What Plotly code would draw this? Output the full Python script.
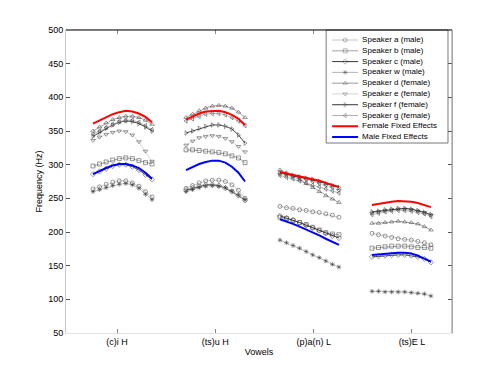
import plotly.graph_objects as go

# ---------------- data ----------------
vowels = ["(c)i H", "(ts)u H", "(p)a(n) L", "(ts)E L"]
vowel_pos = [1, 2, 3, 4]
group_start = [0.756, 1.702, 2.657, 3.593]   # where each vowel's contour begins
norm_time = [0, 1, 2, 3, 4, 5, 6, 7, 8, 9]     # sampling points in each contour
time_span = 0.6

spk_a = [[264, 267, 271, 274, 276, 276, 273, 268, 260, 252],
         [265, 269, 273, 276, 277, 277, 275, 270, 262, 250],
         [238, 236, 235, 233, 232, 230, 229, 227, 225, 222],
         [198, 196, 194, 192, 190, 189, 188, 186, 184, 181]]
spk_b = [[298, 301, 304, 307, 309, 310, 309, 306, 303, 301],
         [322, 322, 321, 320, 319, 318, 316, 313, 310, 303],
         [222, 220, 217, 214, 211, 207, 203, 199, 197, 196],
         [176, 177, 178, 179, 179, 179, 178, 177, 177, 176]]
spk_c = [[286, 290, 294, 298, 300, 300, 297, 292, 285, 278],
         [262, 265, 268, 270, 270, 269, 265, 260, 254, 247],
         [224, 221, 218, 214, 210, 206, 202, 198, 194, 191],
         [163, 164, 165, 166, 166, 166, 165, 163, 160, 155]]
spk_w = [[260, 263, 266, 269, 271, 272, 270, 265, 256, 248],
         [260, 263, 266, 268, 269, 268, 266, 261, 255, 248],
         [188, 184, 180, 176, 171, 166, 162, 157, 152, 148],
         [112, 112, 111, 111, 111, 111, 110, 109, 108, 105]]
spk_d = [[350, 356, 362, 367, 370, 372, 372, 370, 366, 360],
         [370, 375, 380, 384, 387, 388, 387, 384, 378, 370],
         [292, 288, 283, 278, 272, 266, 260, 254, 249, 244],
         [213, 213, 214, 215, 216, 215, 214, 212, 208, 203]]
spk_e = [[336, 341, 345, 348, 350, 349, 344, 334, 320, 305],
         [329, 335, 340, 342, 343, 342, 339, 334, 327, 319],
         [286, 284, 282, 280, 278, 275, 272, 269, 266, 262],
         [228, 230, 232, 233, 234, 234, 233, 231, 229, 225]]
spk_f = [[342, 348, 354, 359, 363, 365, 364, 361, 356, 350],
         [347, 350, 354, 357, 359, 359, 357, 353, 344, 332],
         [288, 286, 284, 282, 280, 278, 275, 272, 269, 266],
         [230, 231, 233, 234, 235, 235, 234, 232, 229, 226]]
spk_g = [[345, 350, 355, 360, 364, 366, 366, 363, 358, 352],
         [365, 368, 372, 375, 376, 376, 374, 370, 365, 358],
         [284, 281, 279, 276, 273, 270, 267, 264, 261, 258],
         [226, 228, 230, 231, 232, 232, 231, 229, 227, 223]]
female_fixed = [[361, 366, 371, 375, 378, 380, 379, 376, 371, 363],
                [367, 372, 376, 379, 380, 380, 378, 374, 368, 359],
                [289, 287, 285, 283, 281, 279, 276, 273, 270, 267],
                [240, 242, 244, 245, 246, 246, 245, 243, 240, 237]]
male_fixed = [[286, 291, 295, 299, 301, 301, 299, 295, 288, 279],
              [292, 297, 301, 304, 306, 306, 303, 297, 288, 275],
              [219, 216, 212, 208, 204, 200, 195, 190, 186, 181],
              [166, 167, 168, 169, 169, 169, 168, 165, 161, 156]]

y_ticks = [50, 100, 150, 200, 250, 300, 350, 400, 450, 500]

# ---------------- styles ----------------
speakers = [
    ("Speaker a (male)", spk_a, "circle-open", "#b4b4b4"),
    ("Speaker b (male)", spk_b, "square-open", "#8c8c8c"),
    ("Speaker c (male)", spk_c, "diamond-open", "#000000"),
    ("Speaker w (male)", spk_w, "asterisk-open", "#a0a0a0"),
    ("Speaker d (female)", spk_d, "triangle-up-open", "#808080"),
    ("Speaker e (female)", spk_e, "triangle-down-open", "#c8c8c8"),
    ("Speaker f (female)", spk_f, "triangle-right-open", "#000000"),
    ("Speaker g (female)", spk_g, "triangle-left-open", "#9a9a9a"),
]
fixed = [("Female Fixed Effects", female_fixed, "#ff0000"),
         ("Male Fixed Effects", male_fixed, "#0000ff")]

MK = dict(size=4, color="#333333", line=dict(color="#333333", width=0.5))


def seg_xy(groups):
    xs, ys = [], []
    span = norm_time[-1] - norm_time[0]
    for g, vals in enumerate(groups):
        for t, v in zip(norm_time, vals):
            xs.append(group_start[g] + time_span * (t - norm_time[0]) / span)
            ys.append(v)
        xs.append(None)
        ys.append(None)
    return xs, ys


fig = go.Figure()
for name, vals, sym, col in speakers:
    xs, ys = seg_xy(vals)
    fig.add_trace(go.Scatter(
        x=xs, y=ys, mode="lines+markers", name=name, showlegend=False,
        line=dict(color=col, width=0.7),
        marker=dict(symbol=sym, **MK)))
for name, vals, col in fixed:
    xs, ys = seg_xy(vals)
    fig.add_trace(go.Scatter(x=xs, y=ys, mode="lines", name=name,
                             showlegend=False, line=dict(color=col, width=2)))

# ---------------- custom legend (overlay axes) ----------------
entries = [(n, s, c, 0.8) for n, _, s, c in speakers] + \
          [(n, None, c, 2) for n, _, c in fixed]
for i, (name, sym, col, w) in enumerate(entries):
    if sym:
        fig.add_trace(go.Scatter(
            x=[0.049, 0.156, 0.262], y=[i, i, i], mode="lines+markers",
            xaxis="x2", yaxis="y2", showlegend=False, hoverinfo="skip",
            line=dict(color=col, width=w),
            marker=dict(symbol=sym, size=[0, 4, 0], color="#333333",
                        line=dict(color="#333333", width=0.5))))
    else:
        fig.add_trace(go.Scatter(
            x=[0.049, 0.262], y=[i, i], mode="lines", xaxis="x2", yaxis="y2",
            showlegend=False, hoverinfo="skip", line=dict(color=col, width=w)))
fig.add_trace(go.Scatter(
    x=[0.295] * len(entries), y=list(range(len(entries))), mode="text",
    text=[e[0] for e in entries], textposition="middle right",
    textfont=dict(size=8, color="#000000", family="Liberation Sans, Arial"),
    xaxis="x2", yaxis="y2", showlegend=False, hoverinfo="skip"))

# page body has an 8px margin, so the figure is trimmed by that amount
fig.update_layout(
    width=492, height=367,
    margin=dict(l=58, r=48, t=22, b=42),
    paper_bgcolor="white", plot_bgcolor="white",
    font=dict(family="Liberation Sans, Arial", size=9, color="#000000"),
    showlegend=False,
    xaxis=dict(range=[0.481, 4.407], tickmode="array", tickvals=vowel_pos,
               ticktext=vowels, ticks="inside", ticklen=4, tickcolor="#888888",
               showline=True, linecolor="#e4e4e4", linewidth=1, mirror="ticks",
               showgrid=False, zeroline=False,
               title=dict(text="Vowels", standoff=2, font=dict(size=9)),
               tickfont=dict(size=9)),
    yaxis=dict(range=[50, 500], tickmode="array", tickvals=y_ticks,
               ticks="inside", ticklen=4, tickcolor="#555555",
               showline=True, linecolor="#c8c8c8", linewidth=1, mirror="ticks",
               showgrid=False, zeroline=False,
               title=dict(text="Frequency (Hz)", standoff=4, font=dict(size=9)),
               tickfont=dict(size=9)),
    xaxis2=dict(domain=[0.674, 0.9896], range=[0, 1], visible=False,
                fixedrange=True, anchor="y2"),
    yaxis2=dict(domain=[0.627, 1.0], range=[9.55, -0.93], visible=False,
                fixedrange=True, anchor="x2"),
    shapes=[
        dict(type="rect", xref="paper", yref="paper", x0=0.674, x1=0.9896,
             y0=0.627, y1=1.0, line=dict(color="#555555", width=0.8),
             fillcolor="rgba(0,0,0,0)", layer="above"),
        dict(type="line", xref="paper", yref="paper", x0=0, x1=1, y0=1, y1=1,
             line=dict(color="#000000", width=1)),
        dict(type="line", xref="paper", yref="paper", x0=1, x1=1, y0=0, y1=1,
             line=dict(color="#8a8a8a", width=1)),
    ],
)

fig.write_html("out.html")
